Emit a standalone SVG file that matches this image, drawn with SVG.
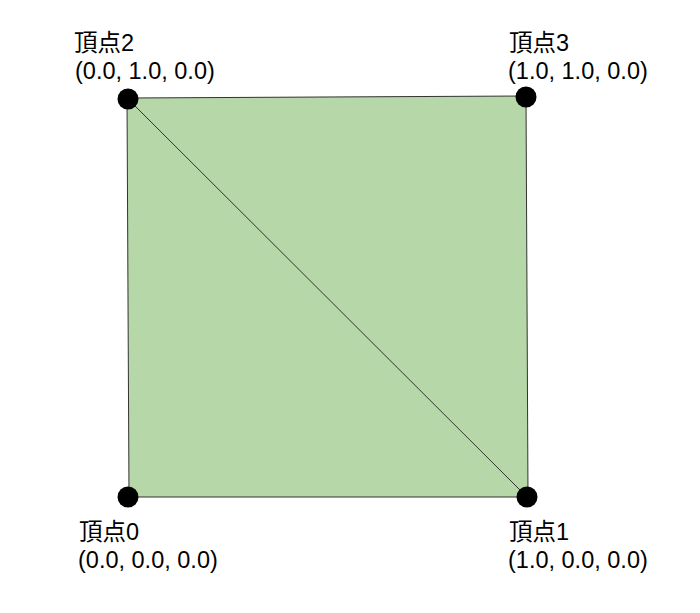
<svg xmlns="http://www.w3.org/2000/svg" width="700" height="613" viewBox="0 0 700 613">
<style>
.lbl{font-family:"Liberation Sans","Noto Sans CJK JP",sans-serif;font-size:23.5px;fill:#000}
.v{fill:#000}
.face{fill:#b6d7a8;stroke:#333;stroke-width:1}
.edge{stroke:#333;stroke-width:1;fill:none}
</style>
<rect width="700" height="613" fill="#fff"/>
<g id="face">
<polygon class="face" points="127,98 526,96 528,497 129,497"/>
</g>
<g id="connectors">
<line class="edge" x1="128" y1="99" x2="527" y2="497"/>
</g>
<g id="v2">
<circle class="v" cx="128" cy="99" r="10.5"/>
<text class="lbl" x="74" y="51">頂点2</text>
<text class="lbl" x="75" y="79">(0.0, 1.0, 0.0)</text>
</g>
<g id="v3">
<circle class="v" cx="526" cy="97" r="10.5"/>
<text class="lbl" x="509" y="51">頂点3</text>
<text class="lbl" x="508" y="79">(1.0, 1.0, 0.0)</text>
</g>
<g id="v0">
<circle class="v" cx="128" cy="497" r="10.5"/>
<text class="lbl" x="79" y="540">頂点0</text>
<text class="lbl" x="78" y="568">(0.0, 0.0, 0.0)</text>
</g>
<g id="v1">
<circle class="v" cx="527" cy="497" r="10.5"/>
<text class="lbl" x="509" y="540">頂点1</text>
<text class="lbl" x="508" y="568">(1.0, 0.0, 0.0)</text>
</g>
</svg>
